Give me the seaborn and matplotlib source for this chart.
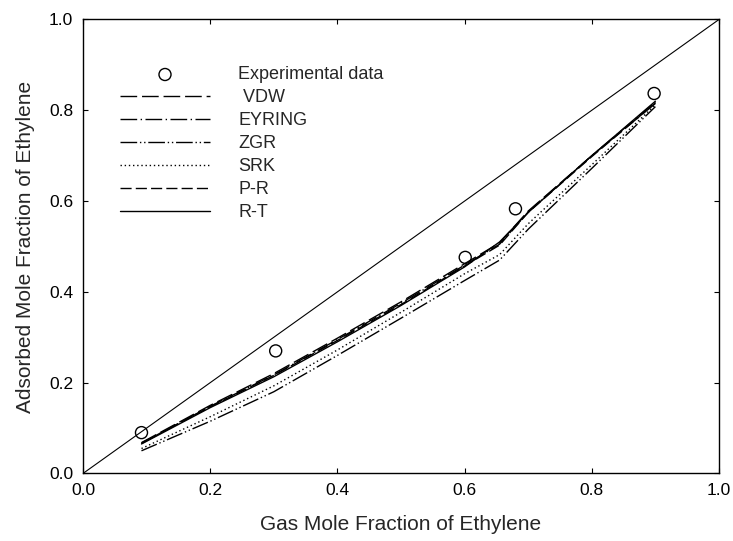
import matplotlib
matplotlib.use("Agg")
import matplotlib.pyplot as plt
import seaborn as sns

# experimental points
gas_exp = [0.092, 0.303, 0.601, 0.680, 0.898]
ads_exp = [0.090, 0.270, 0.476, 0.583, 0.837]

# model curves
gas_model = [0.092, 0.2, 0.3, 0.4, 0.5, 0.6, 0.655, 0.7, 0.8, 0.9]
vdw    = [0.068, 0.150, 0.220, 0.298, 0.378, 0.462, 0.508, 0.578, 0.700, 0.815]
eyring = [0.066, 0.148, 0.217, 0.295, 0.375, 0.459, 0.505, 0.576, 0.700, 0.818]
zgr    = [0.050, 0.115, 0.180, 0.260, 0.342, 0.425, 0.470, 0.538, 0.672, 0.808]
srk    = [0.055, 0.125, 0.193, 0.272, 0.355, 0.440, 0.482, 0.550, 0.680, 0.812]
pr     = [0.067, 0.147, 0.216, 0.293, 0.372, 0.457, 0.503, 0.575, 0.698, 0.816]
rt     = [0.065, 0.145, 0.213, 0.290, 0.370, 0.455, 0.510, 0.575, 0.700, 0.820]

sns.set_style("ticks")
plt.rcParams['font.family'] = ['Liberation Sans', 'DejaVu Sans']

fig = plt.figure(figsize=(7.33, 5.41), dpi=100)
ax = fig.add_axes([0.1132, 0.1248, 0.8677, 0.8392])

# y = x reference
ax.axline((0, 0), slope=1, color='black', lw=0.8, zorder=1)

sns.scatterplot(x=gas_exp, y=ads_exp, ax=ax, marker='o', s=75,
                facecolor='none', edgecolor='black', linewidth=1.0,
                label='Experimental data', zorder=3)

models = [
    (" VDW", vdw, (0, (12, 3.5))),
    ("EYRING", eyring, (0, (12, 2.5, 1, 2.5))),
    ("ZGR", zgr, (0, (12, 2, 1, 2, 1, 2))),
    ("SRK", srk, (0, (1, 2))),
    ("P-R", pr, (0, (8, 3))),
    ("R-T", rt, '-'),
]
for name, vals, ls in models:
    sns.lineplot(x=gas_model, y=vals, ax=ax, color='black', lw=1.0,
                 linestyle=ls, label=name, sort=False)

ax.set_xlim(0, 1)
ax.set_ylim(0, 1)
ax.set_xticks([0, 0.2, 0.4, 0.6, 0.8, 1.0])
ax.set_yticks([0, 0.2, 0.4, 0.6, 0.8, 1.0])
ax.set_xticklabels(['0.0', '0.2', '0.4', '0.6', '0.8', '1.0'])
ax.set_yticklabels(['0.0', '0.2', '0.4', '0.6', '0.8', '1.0'])
ax.tick_params(direction='in', top=True, right=True, length=3.6, width=0.8,
               labelsize=12.5, pad=7, colors='black')
for sp in ax.spines.values():
    sp.set_visible(True)
    sp.set_linewidth(1.0)
    sp.set_color('black')

ax.set_xlabel('Gas Mole Fraction of Ethylene', fontsize=15, labelpad=12)
ax.set_ylabel('Adsorbed Mole Fraction of Ethylene', fontsize=15, labelpad=10)

leg = ax.legend(loc='upper left', bbox_to_anchor=(0.058, 0.897), frameon=False,
                fontsize=13, handlelength=5.0, handletextpad=1.55,
                labelspacing=0.33, borderpad=0, borderaxespad=0, scatterpoints=1)

fig.savefig('out.png', dpi=100)
